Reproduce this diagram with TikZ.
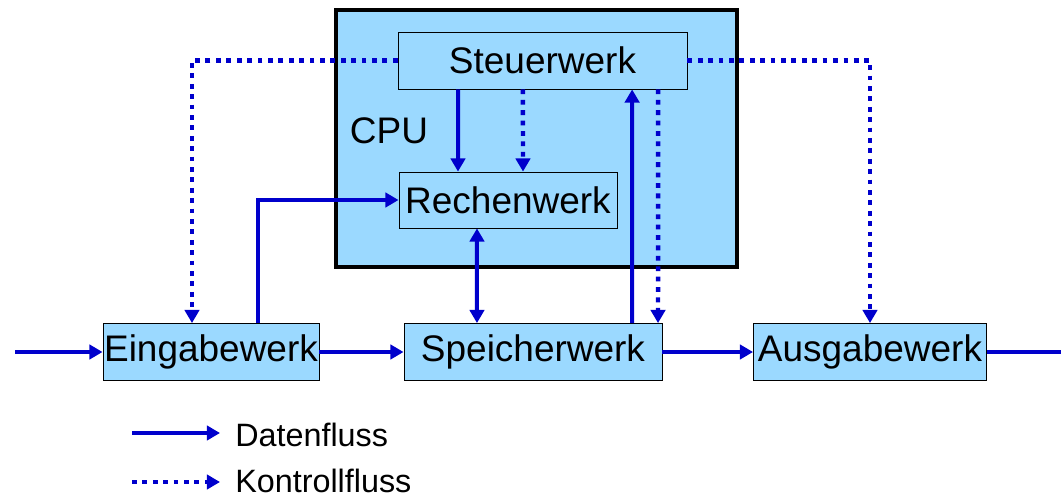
\documentclass[tikz,border=0pt]{standalone}
\usepackage{fontspec}
\setmainfont{Liberation Sans}
\usetikzlibrary{positioning,arrows.meta,calc}
\definecolor{flowblue}{RGB}{0,0,204}
\definecolor{unitfill}{RGB}{155,217,255}
\tikzset{
	>={Triangle[length=0.33cm,width=0.36cm]},
	unit/.style = {draw, fill=unitfill, line width=0.6pt, inner sep=0pt,
		minimum height=1.425cm, font=\fontsize{26.3}{30}\selectfont},
	data/.style = {draw=flowblue, line width=0.1cm},
	ctrl/.style = {draw=flowblue, line width=0.11cm, dash pattern=on 0.12cm off 0.14cm}
}

\begin{document}
\begin{tikzpicture}[x=0.025cm, y=-0.025cm]
\useasboundingbox (0,0) rectangle (1061,499);

% CPU
\node[draw, fill=unitfill, line width=0.1cm, minimum width=10.025cm, minimum height=6.425cm] (cpu) at (536.5,138.5) {};
\node[font=\fontsize{26.3}{30}\selectfont] (cpulabel) at (389,131) {CPU};

\node[unit, minimum width=7.225cm] (sw) at (542.5,60.5) {Steuerwerk};
\node[unit, minimum width=5.45cm, minimum height=1.4cm] (rw) at (508,200) {Rechenwerk};

% Werke
\node[unit, minimum width=5.4cm] (ein) at (211,352) {Eingabewerk};
\node[unit, minimum width=6.45cm] (sp) at (533,352) {Speicherwerk};
\node[unit, minimum width=5.825cm] (aus) at (870,352) {Ausgabewerk};

\coordinate (in) at (15,352);
\coordinate (out) at (1061,352);

% Datenfluss
\draw[data,->] (in) -- (ein.west);
\draw[data,->] (ein) -- (sp);
\draw[data,->] (sp) -- (aus);
\draw[data] (aus.east) -- (out);
\draw[data,->] ([xshift=1.175cm]ein.north) |- (rw.west);
\draw[data,->] ([xshift=-2.11cm]sw.south) -- ([xshift=-1.25cm]rw.north);
\draw[data,<->] ([xshift=-0.775cm]rw.south) -- ([xshift=-1.4cm]sp.north);
\draw[data,->] ([xshift=2.475cm]sp.north) -- ([xshift=2.24cm]sw.south);

% Kontrollfluss
\draw[ctrl,->] (sw.west) -| ([xshift=-0.475cm]ein.north);
\draw[ctrl,->] (sw.east) -| (aus.north);
\draw[ctrl,->] ([xshift=-0.49cm]sw.south) -- ([xshift=0.375cm]rw.north);
\draw[ctrl,->] ([xshift=2.89cm]sw.south) -- ([xshift=3.125cm]sp.north);

% Legende
\coordinate (d1) at (132,433);
\coordinate (d2) at (220,433);
\coordinate (k1) at (132,482);
\coordinate (k2) at (220,482);
\draw[data,->] (d1) -- (d2);
\draw[ctrl,->] (k1) -- (k2);
\node[anchor=west, inner sep=0pt, font=\fontsize{23}{27}\selectfont] (datentext) at (235,435) {Datenfluss};
\node[anchor=west, inner sep=0pt, font=\fontsize{23}{27}\selectfont] (kontrolltext) at (235,481) {Kontrollfluss};

\end{tikzpicture}
\end{document}
